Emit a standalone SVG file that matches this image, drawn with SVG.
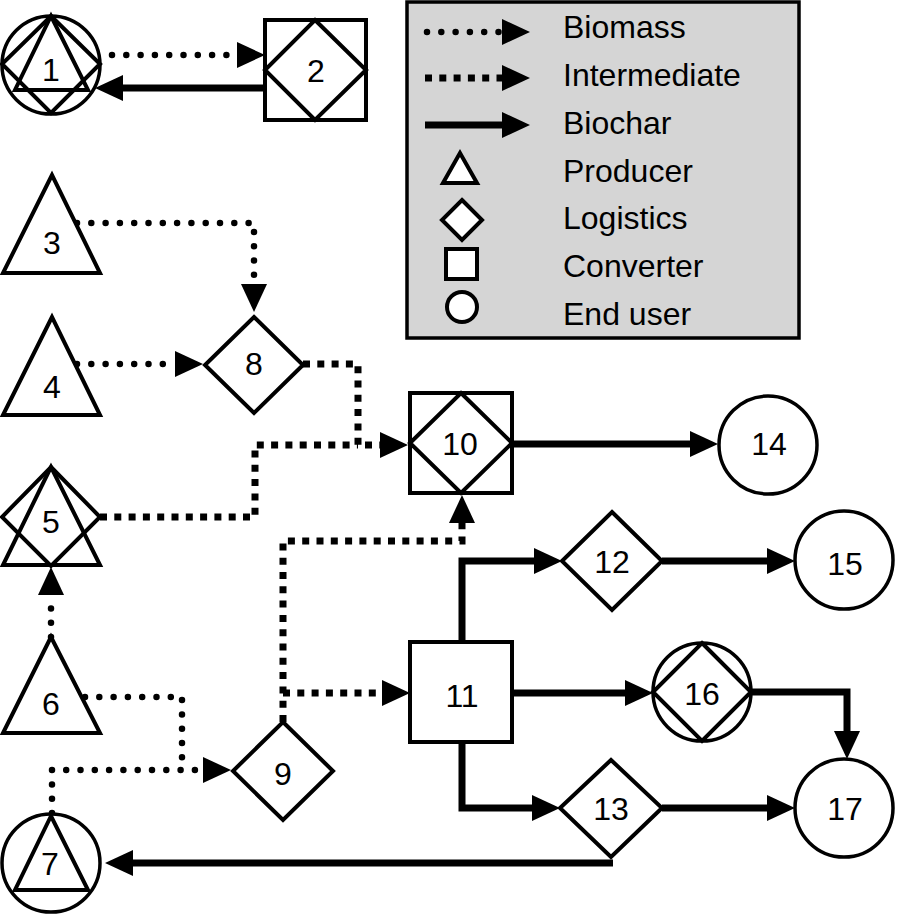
<svg xmlns="http://www.w3.org/2000/svg" width="903" height="915" viewBox="0 0 903 915">
<style>
text{font-family:"Liberation Sans",Arial,Helvetica,sans-serif;font-size:32px;fill:#000}
.lbl{text-anchor:middle}
.shape{fill:#fff;stroke:#000;stroke-width:4;stroke-linejoin:miter}
.inner{fill:none;stroke:#000;stroke-width:4}
.circ{fill:#fff;stroke:#000;stroke-width:3.5}
.bio{fill:none;stroke:#000;stroke-width:6.5;stroke-linecap:round;stroke-dasharray:0 14.3}
.int{fill:none;stroke:#000;stroke-width:7;stroke-dasharray:7 7.3}
.char{fill:none;stroke:#000;stroke-width:7}
</style>
<defs>
<marker id="ah" markerUnits="userSpaceOnUse" markerWidth="30" markerHeight="30" refX="0" refY="0" orient="auto" overflow="visible">
<path d="M0,-13 L28,0 L0,13 Z" fill="#000"/>
</marker>
</defs>
<rect x="0" y="0" width="903" height="915" fill="#fff"/>

<g id="legend">
<rect x="407" y="2" width="392" height="336" fill="#d5d5d5" stroke="#000" stroke-width="3.5"/>
<path class="bio" d="M427,32 H502" marker-end="url(#ah)"/>
<path class="int" d="M425,78 H502" marker-end="url(#ah)"/>
<path class="char" d="M425,125 H502" marker-end="url(#ah)"/>
<polygon class="shape" points="460,153 443,183 477,183"/>
<polygon class="shape" points="462,200 482,220 462,240 442,220"/>
<rect class="shape" x="446" y="249" width="31" height="30"/>
<circle class="shape" cx="462" cy="307" r="15"/>
<text x="563" y="38">Biomass</text>
<text x="563" y="86">Intermediate</text>
<text x="563" y="134">Biochar</text>
<text x="563" y="182">Producer</text>
<text x="563" y="229">Logistics</text>
<text x="563" y="277">Converter</text>
<text x="563" y="325">End user</text>
</g>

<g id="connectors">
<path class="bio" d="M112,55 H237" marker-end="url(#ah)"/>
<path class="char" d="M265,88 H123" marker-end="url(#ah)"/>
<path class="bio" d="M77,223 H254 V284" marker-end="url(#ah)"/>
<path class="bio" d="M77,364 H175" marker-end="url(#ah)"/>
<path class="bio" d="M51,637 V595" marker-end="url(#ah)"/>
<path class="bio" d="M85,697 H182 V770"/>
<path class="bio" d="M52,813 V770 H203" marker-end="url(#ah)"/>
<path class="int" d="M100,517 H255 V445 H358"/>
<path class="int" d="M303,364 H358 V445 H380" marker-end="url(#ah)"/>
<path class="int" d="M283,722 V541 H462 V523" marker-end="url(#ah)"/>
<path class="int" d="M283,693 H382" marker-end="url(#ah)"/>
<path class="char" d="M512,444 H690" marker-end="url(#ah)"/>
<path class="char" d="M462,642 V561 H534" marker-end="url(#ah)"/>
<path class="char" d="M662,561 H767" marker-end="url(#ah)"/>
<path class="char" d="M512,693 H625" marker-end="url(#ah)"/>
<path class="char" d="M752,692 H847 V731" marker-end="url(#ah)"/>
<path class="char" d="M462,742 V808 H532" marker-end="url(#ah)"/>
<path class="char" d="M662,808 H767" marker-end="url(#ah)"/>
<path class="char" d="M613,863 H133" marker-end="url(#ah)"/>
</g>

<g id="node1">
<circle class="circ" cx="51" cy="65" r="49"/>
<polygon class="inner" points="51,16 100,64 51,113 2,64"/>
<polygon class="inner" points="51,16 15,90 88,90"/>
<text class="lbl" x="51" y="81">1</text>
</g>
<g id="node2">
<rect class="shape" x="265" y="20" width="101" height="100"/>
<polygon class="inner" points="315,20 366,70 315,120 265,70"/>
<text class="lbl" x="316" y="82">2</text>
</g>
<g id="node3">
<polygon class="shape" points="52,175 3,273 100,273"/>
<text class="lbl" x="52" y="254">3</text>
</g>
<g id="node4">
<polygon class="shape" points="52,317 3,415 100,415"/>
<text class="lbl" x="52" y="398">4</text>
</g>
<g id="node5">
<polygon class="shape" points="51,467 100,517 51,566 2,517"/>
<polygon class="inner" points="51,467 3,565 100,565"/>
<text class="lbl" x="51" y="533">5</text>
</g>
<g id="node6">
<polygon class="shape" points="51,637 3,733 100,733"/>
<text class="lbl" x="51" y="715">6</text>
</g>
<g id="node7">
<circle class="circ" cx="51" cy="863" r="49"/>
<polygon class="inner" points="51,816 15,890 88,890"/>
<text class="lbl" x="50" y="875">7</text>
</g>
<g id="node8">
<polygon class="shape" points="254,317 303,365 254,413 205,365"/>
<text class="lbl" x="254" y="375">8</text>
</g>
<g id="node9">
<polygon class="shape" points="283,722 333,771 283,820 233,771"/>
<text class="lbl" x="283" y="785">9</text>
</g>
<g id="node10">
<rect class="shape" x="410" y="393" width="102" height="100"/>
<polygon class="inner" points="461,393 512,443 461,493 410,443"/>
<text class="lbl" x="460" y="455">10</text>
</g>
<g id="node11">
<rect class="shape" x="410" y="642" width="102" height="100"/>
<text class="lbl" x="462" y="707">11</text>
</g>
<g id="node12">
<polygon class="shape" points="612,512 662,561 612,610 562,561"/>
<text class="lbl" x="612" y="573">12</text>
</g>
<g id="node13">
<polygon class="shape" points="611,760 662,808 611,857 560,808"/>
<text class="lbl" x="611" y="820">13</text>
</g>
<g id="node14">
<circle class="circ" cx="768" cy="445" r="49"/>
<text class="lbl" x="769" y="455">14</text>
</g>
<g id="node15">
<circle class="circ" cx="844" cy="560" r="49"/>
<text class="lbl" x="845" y="575">15</text>
</g>
<g id="node16">
<circle class="circ" cx="702" cy="692" r="49"/>
<polygon class="inner" points="702,643 751,692 702,741 653,692"/>
<text class="lbl" x="702" y="705">16</text>
</g>
<g id="node17">
<circle class="circ" cx="844" cy="808" r="49"/>
<text class="lbl" x="845" y="820">17</text>
</g>
</svg>
